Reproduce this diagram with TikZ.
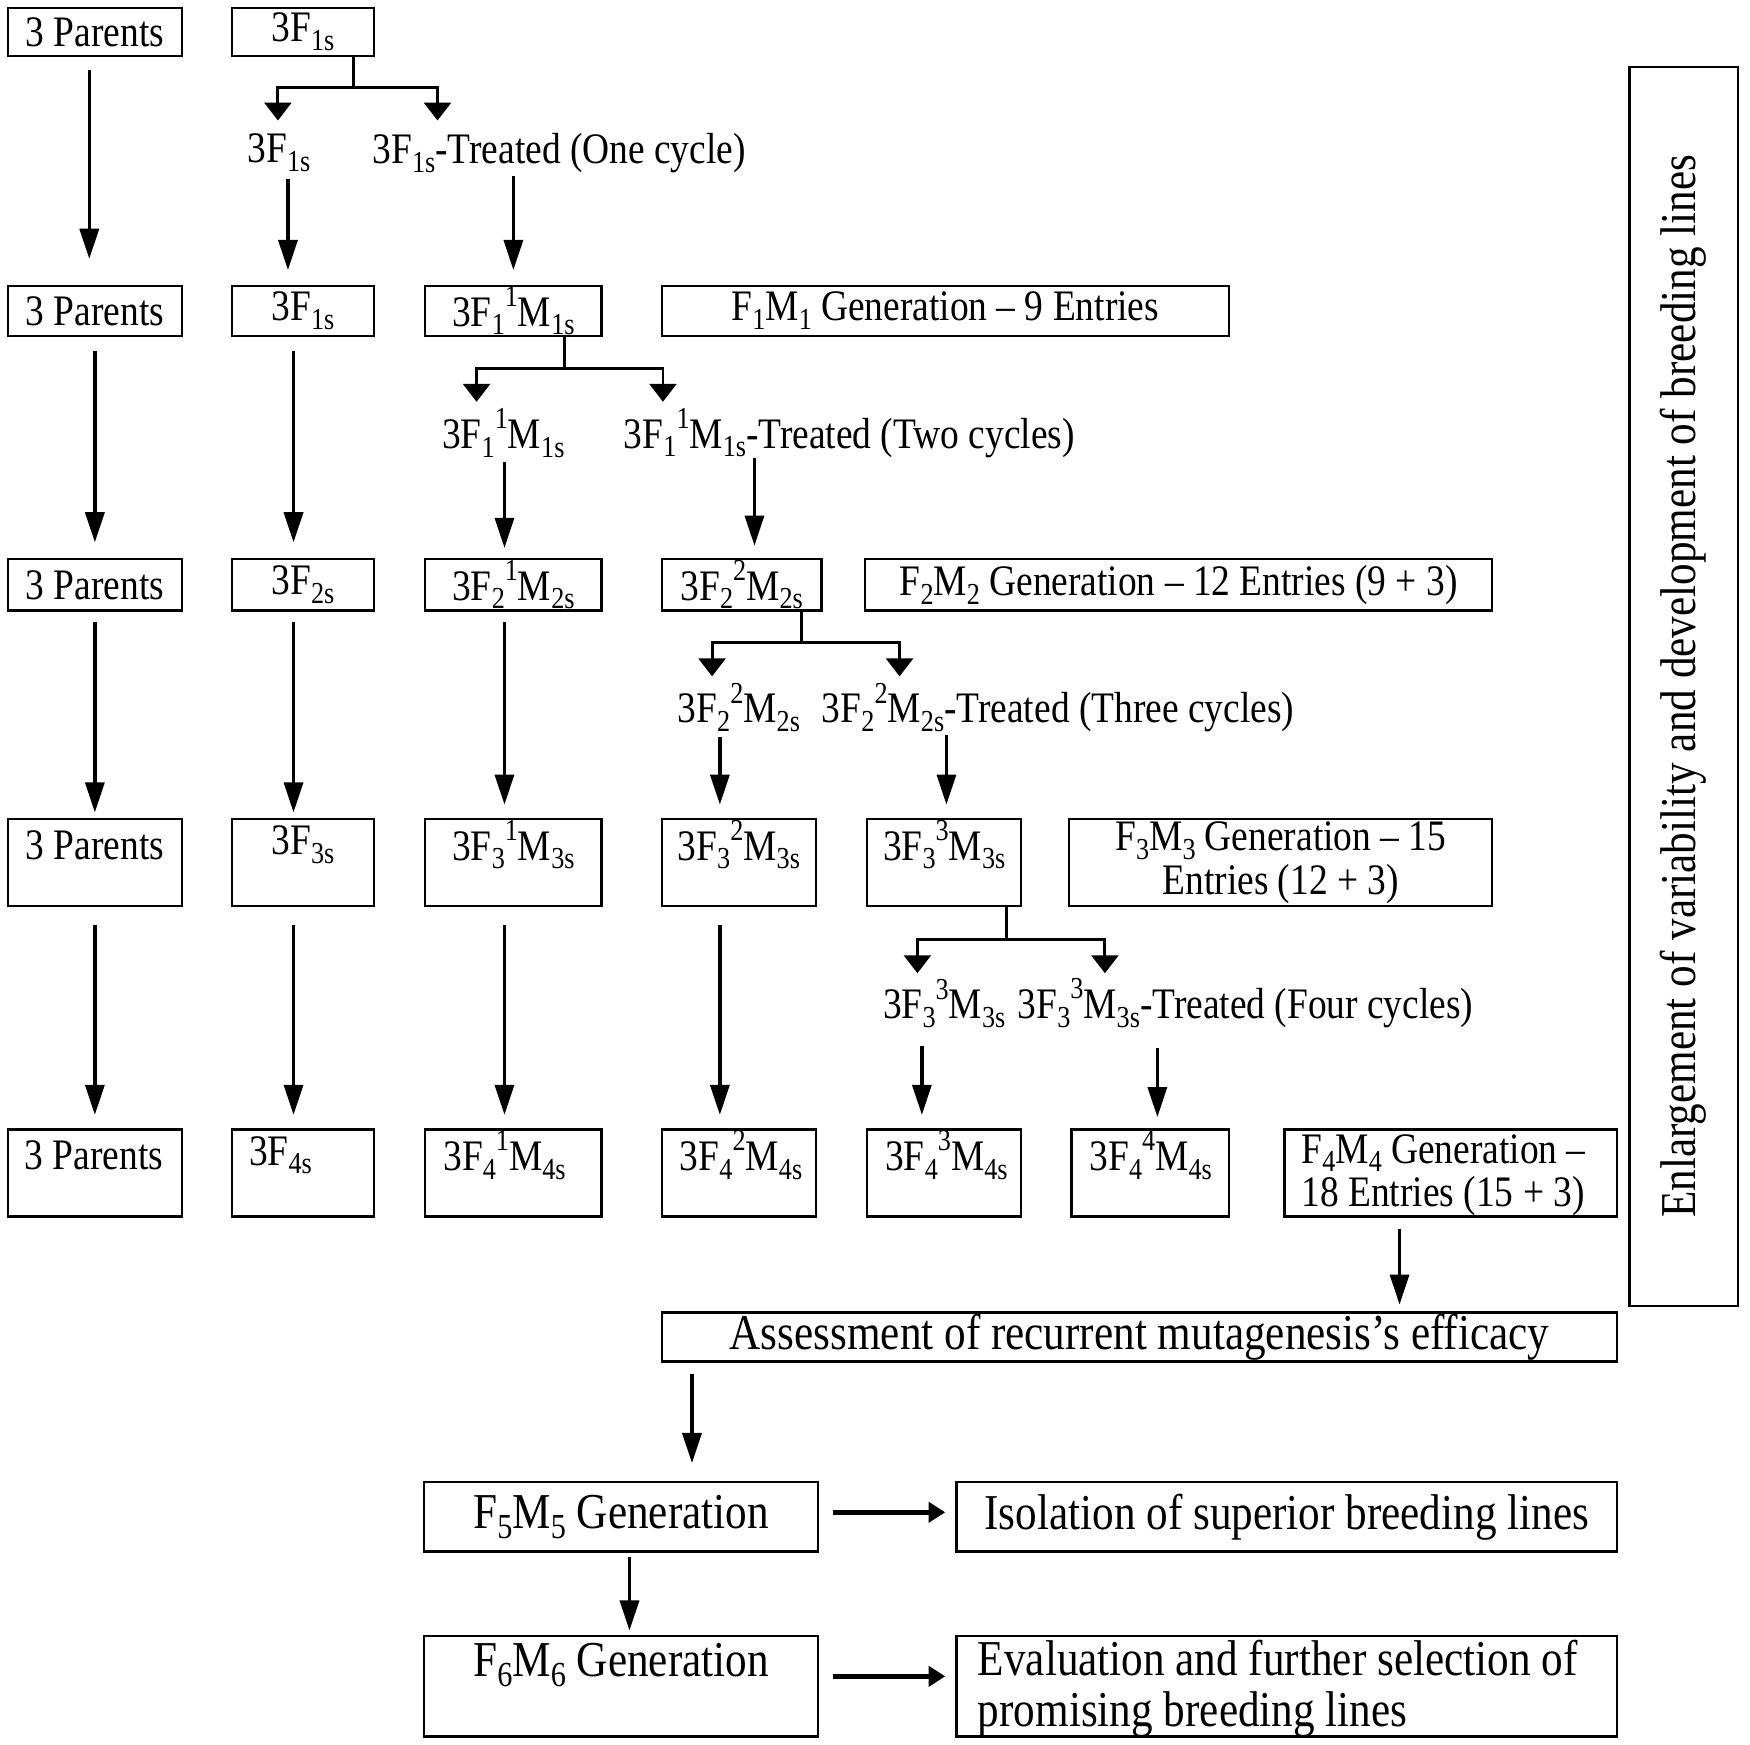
\documentclass[tikz,border=0pt]{standalone}
\usepackage{fontspec}
\setmainfont{Liberation Serif}[FakeStretch=0.86]
\usepackage{graphicx}
\usetikzlibrary{arrows.meta}
\newcommand\lo[1]{\raisebox{-0.2em}{\scalebox{0.7}{#1}}}
\newcommand\hi[1]{\raisebox{0.45em}{\scalebox{0.7}{#1}}}
\begin{document}
\begin{tikzpicture}[x=1pt,y=-1pt,
  bx/.style={draw, line width=2.1pt, inner sep=0pt, font=\fontsize{39}{39}\selectfont, align=center},
  lbl/.style={inner sep=0pt, font=\fontsize{39}{39}\selectfont},
  big/.style={font=\fontsize{45}{45}\selectfont},
  arr/.style={line width=3.2pt, -{Triangle[width=17pt,length=27pt]}, shorten <=12pt, shorten >=12pt},
  brk/.style={line width=2.6pt},
  brkarr/.style={line width=2.6pt, -{Triangle[width=24pt,length=16pt]}},
  harr/.style={line width=5pt, -{Triangle[width=18pt,length=15pt]}, shorten <=12pt, shorten >=9pt},
]
\useasboundingbox (0,0) rectangle (1568,1563);

% ---------- row 1
\node[bx, minimum width=156pt, minimum height=43pt] (r1a) at (85,28.5) {3 Parents};
\node[bx, minimum width=127pt, minimum height=43pt] (r1b) at (271.5,28.5) {3F\lo{1s}};

% ---------- row 2
\node[bx, minimum width=156pt, minimum height=45pt] (r2a) at (85,278.5) {3 Parents};
\node[bx, minimum width=127pt, minimum height=45pt] (r2b) at (271.5,278.5) {3F\lo{1s}};
\node[bx, minimum width=158pt, minimum height=45pt] (r2c) at (460,278.5) {3F\lo{1}\hi{1}M\lo{1s}};
\node[bx, minimum width=508pt, minimum height=45pt] (r2d) at (847,278.5) {F\lo{1}M\lo{1} Generation -- 9 Entries};

% ---------- row 3
\node[bx, minimum width=156pt, minimum height=46pt] (r3a) at (85,524) {3 Parents};
\node[bx, minimum width=127pt, minimum height=46pt] (r3b) at (271.5,524) {3F\lo{2s}};
\node[bx, minimum width=158pt, minimum height=46pt] (r3c) at (460,524) {3F\lo{2}\hi{1}M\lo{2s}};
\node[bx, minimum width=143pt, minimum height=46pt] (r3d) at (664.5,524) {3F\lo{2}\hi{2}M\lo{2s}};
\node[bx, minimum width=562pt, minimum height=46pt] (r3e) at (1056,524) {F\lo{2}M\lo{2} Generation -- 12 Entries (9 + 3)};

% ---------- row 4
\node[bx, minimum width=156pt, minimum height=78pt] (r4a) at (85,773) {};
\node[bx, minimum width=127pt, minimum height=78pt] (r4b) at (271.5,773) {};
\node[bx, minimum width=158pt, minimum height=78pt] (r4c) at (460,773) {};
\node[bx, minimum width=138pt, minimum height=78pt] (r4d) at (662,773) {};
\node[bx, minimum width=138pt, minimum height=78pt] (r4e) at (846,773) {};
\node[bx, minimum width=379pt, minimum height=78pt] (r4f) at (1147.5,773) {F\lo{3}M\lo{3} Generation -- 15\\Entries (12 + 3)};
\node[lbl] (r4at) at (85,757) {3 Parents};
\node[lbl] (r4bt) at (271.5,757) {3F\lo{3s}};
\node[lbl] (r4ct) at (460,757) {3F\lo{3}\hi{1}M\lo{3s}};
\node[lbl] (r4dt) at (662,757) {3F\lo{3}\hi{2}M\lo{3s}};
\node[lbl] (r4et) at (846,757) {3F\lo{3}\hi{3}M\lo{3s}};

% ---------- row 5
\node[bx, minimum width=156pt, minimum height=78pt] (r5a) at (85,1051) {};
\node[bx, minimum width=127pt, minimum height=78pt] (r5b) at (271.5,1051) {};
\node[bx, minimum width=158pt, minimum height=78pt] (r5c) at (460,1051) {};
\node[bx, minimum width=138pt, minimum height=78pt] (r5d) at (662,1051) {};
\node[bx, minimum width=138pt, minimum height=78pt] (r5e) at (846,1051) {};
\node[bx, minimum width=141pt, minimum height=78pt] (r5f) at (1030.5,1051) {};
\node[bx, minimum width=298pt, minimum height=78pt] (r5g) at (1300,1051) {};
\node[lbl, anchor=west] (r5at) at (22,1035) {3 Parents};
\node[lbl, anchor=west] (r5bt) at (223,1035) {3F\lo{4s}};
\node[lbl, anchor=west] (r5ct) at (397,1035) {3F\lo{4}\hi{1}M\lo{4s}};
\node[lbl, anchor=west] (r5dt) at (609,1035) {3F\lo{4}\hi{2}M\lo{4s}};
\node[lbl, anchor=west] (r5et) at (793,1035) {3F\lo{4}\hi{3}M\lo{4s}};
\node[lbl, anchor=west] (r5ft) at (976,1035) {3F\lo{4}\hi{4}M\lo{4s}};
\node[lbl, anchor=west, align=left] (r5gt) at (1166,1053) {F\lo{4}M\lo{4} Generation --\\18 Entries (15 + 3)};

% ---------- bottom part
\node[bx, big, minimum width=856pt, minimum height=44pt] (assess) at (1021,1198) {Assessment of recurrent mutagenesis’s efficacy};
\node[bx, big, minimum width=353pt, minimum height=62pt] (f5) at (556.5,1359) {F\lo{5}M\lo{5} Generation};
\node[bx, big, minimum width=592pt, minimum height=62pt] (iso) at (1153,1359) {Isolation of superior breeding lines};
\node[bx, minimum width=353pt, minimum height=90pt] (f6) at (556.5,1511) {};
\node[lbl, big] (f6t) at (556.5,1492) {F\lo{6}M\lo{6} Generation};
\node[bx, minimum width=592pt, minimum height=90pt] (eva) at (1153,1511) {};
\node[lbl, big, anchor=west, align=left] (evat) at (876,1513) {Evaluation and further selection of\\promising breeding lines};

% ---------- right vertical box
\node[draw, line width=2.1pt, inner sep=0pt, big, rotate=90, minimum width=1110pt, minimum height=97pt] (enl) at (1508.5,615) {Enlargement of variability and development of breeding lines};

% ---------- bracket labels
\node[lbl] (l1a) at (250,137) {3F\lo{1s}};
\node[lbl] (l1b) at (501,137) {3F\lo{1s}-Treated (One cycle)};
\node[lbl] (l2a) at (451,388) {3F\lo{1}\hi{1}M\lo{1s}};
\node[lbl] (l2b) at (761,388) {3F\lo{1}\hi{1}M\lo{1s}-Treated (Two cycles)};
\node[lbl] (l3a) at (662,634) {3F\lo{2}\hi{2}M\lo{2s}};
\node[lbl] (l3b) at (948,634) {3F\lo{2}\hi{2}M\lo{2s}-Treated (Three cycles)};
\node[lbl] (l4a) at (846,899) {3F\lo{3}\hi{3}M\lo{3s}};
\node[lbl] (l4b) at (1116,899) {3F\lo{3}\hi{3}M\lo{3s}-Treated (Four cycles)};

% ---------- brackets
\coordinate (s1) at (317,78);  \coordinate (t1a) at (249,108); \coordinate (t1b) at (392,108);
\coordinate (s2) at (506,330); \coordinate (t2a) at (427,360); \coordinate (t2b) at (594,360);
\coordinate (s3) at (718,576); \coordinate (t3a) at (638,606); \coordinate (t3b) at (806,606);
\coordinate (s4) at (902,842); \coordinate (t4a) at (822,872); \coordinate (t4b) at (990,872);
\draw[brk] (s1 |- r1b.south) -- (s1);
\draw[brkarr] (s1) -| (t1a);
\draw[brkarr] (s1) -| (t1b);
\draw[brk] (s2 |- r2c.south) -- (s2);
\draw[brkarr] (s2) -| (t2a);
\draw[brkarr] (s2) -| (t2b);
\draw[brk] (s3 |- r3d.south) -- (s3);
\draw[brkarr] (s3) -| (t3a);
\draw[brkarr] (s3) -| (t3b);
\draw[brk] (s4 |- r4e.south) -- (s4);
\draw[brkarr] (s4) -| (t4a);
\draw[brkarr] (s4) -| (t4b);

% ---------- arrow columns
\coordinate (xa1) at (80,0);  \coordinate (xa) at (85,0);
\coordinate (xb1) at (258,0); \coordinate (xb) at (263,0);
\coordinate (xc1) at (460,0); \coordinate (xc) at (452,0);
\coordinate (xd1) at (676,0); \coordinate (xd) at (645,0);
\coordinate (xe1) at (848,0); \coordinate (xe2) at (826,0);
\coordinate (xf) at (1037,0); \coordinate (xg) at (1254,0);
\coordinate (xh) at (620,0);  \coordinate (xi) at (564,0);

% column A
\draw[arr, shorten >=23pt] (xa1 |- r1a.south) -- (xa1 |- r2a.north);
\draw[arr, shorten >=14pt] (xa |- r2a.south) -- (xa |- r3a.north);
\draw[arr, shorten <=9pt, shorten >=5pt] (xa |- r3a.south) -- (xa |- r4a.north);
\draw[arr, shorten <=16pt] (xa |- r4a.south) -- (xa |- r5a.north);
% column B
\draw[arr, shorten <=6pt, shorten >=13pt] (xb1 |- l1a.south) -- (xb1 |- r2b.north);
\draw[arr, shorten >=14pt] (xb |- r2b.south) -- (xb |- r3b.north);
\draw[arr, shorten <=9pt, shorten >=5pt] (xb |- r3b.south) -- (xb |- r4b.north);
\draw[arr, shorten <=16pt] (xb |- r4b.south) -- (xb |- r5b.north);
% column C
\draw[arr, shorten <=3pt, shorten >=13pt] (xc1 |- l1b.south) -- (r2c.north);
\draw[arr, shorten <=4pt, shorten >=9pt] (xc |- l2a.south) -- (xc |- r3c.north);
\draw[arr, shorten <=9pt] (xc |- r3c.south) -- (xc |- r4c.north);
\draw[arr, shorten <=16pt] (xc |- r4c.south) -- (xc |- r5c.north);
% column D
\draw[arr, shorten <=0pt, shorten >=11pt] (xd1 |- l2b.south) -- (xd1 |- r3d.north);
\draw[arr, shorten <=4pt] (xd |- l3a.south) -- (xd |- r4d.north);
\draw[arr, shorten <=16pt] (xd |- r4d.south) -- (xd |- r5d.north);
% column E, F
\draw[arr, shorten <=2pt] (xe1 |- l3b.south) -- (xe1 |- r4e.north);
\draw[arr, shorten <=16pt] (xe2 |- l4a.south) -- (xe2 |- r5e.north);
\draw[arr, shorten <=18pt, shorten >=10pt] (xf |- l4b.south) -- (xf |- r5f.north);
% bottom
\draw[arr, shorten <=10pt, shorten >=6pt] (xg |- r5g.south) -- (xg |- assess.north);
\draw[arr, shorten <=10pt, shorten >=16pt] (xh |- assess.south) -- (xh |- f5.north);
\draw[arr, shorten <=4pt, shorten >=4pt] (xi |- f5.south) -- (xi |- f6.north);
\draw[harr] ([yshift=4pt]f5.east) -- ([yshift=4pt]iso.west);
\draw[harr] ([yshift=9pt]f6.east) -- ([yshift=9pt]eva.west);
\end{tikzpicture}
\end{document}
